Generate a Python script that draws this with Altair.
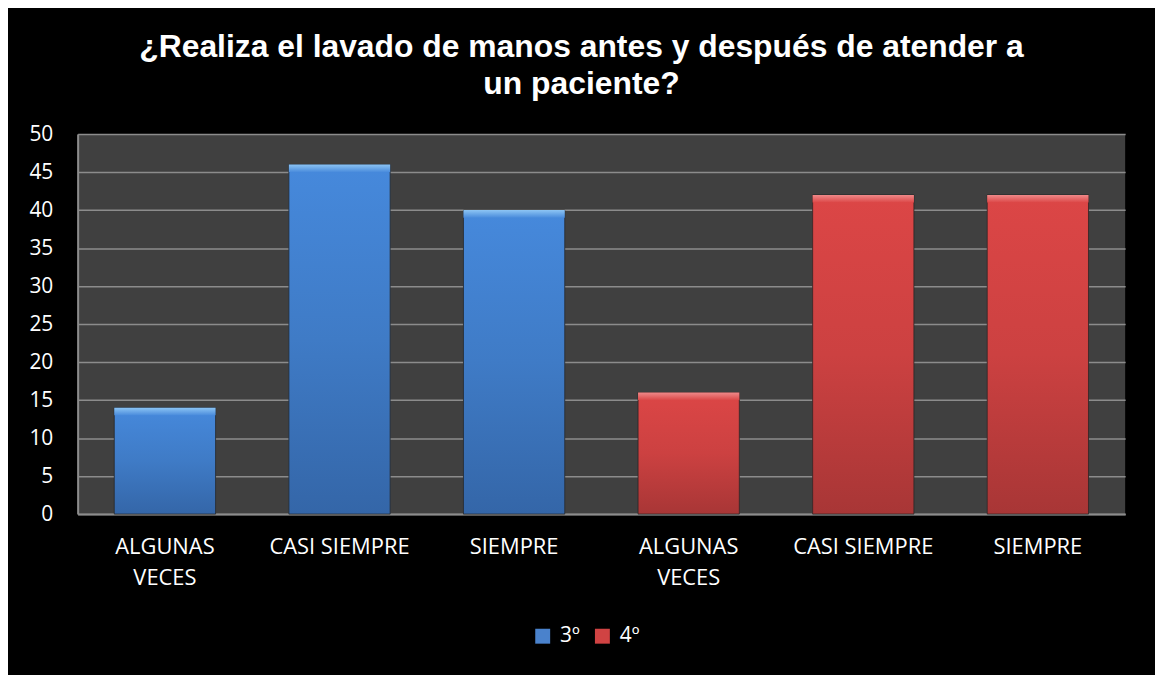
import altair as alt
import pandas as pd

categories = ["ALGUNAS VECES", "CASI SIEMPRE", "SIEMPRE"]
series = ["3º", "4º"]
values_3 = [14, 46, 40]
values_4 = [16, 42, 42]

title_lines = ["¿Realiza el lavado de manos antes y después de atender a", "un paciente?"]

rows = []
for s, vals in zip(series, [values_3, values_4]):
    for c, v in zip(categories, vals):
        rows.append({"key": f"{s}|{c}", "series": s, "category": c, "value": v})
df = pd.DataFrame(rows)
order = list(df["key"])

BLUE = "#4a82cc"
RED = "#d04343"

lab = "slice(datum.label, indexof(datum.label, '|') + 1)"
label_expr = f"{lab} == 'ALGUNAS VECES' ? split({lab}, ' ') : {lab}"

x_enc = alt.X(
    "key:N",
    sort=order,
    scale=alt.Scale(paddingInner=0.42, paddingOuter=0.21),
    axis=alt.Axis(
        title=None, labelAngle=0, ticks=False, labelExpr=label_expr,
        labelFont="Open Sans", labelFontSize=22, labelColor="white",
        labelLineHeight=31, labelPadding=23, labelBaseline="top",
        domainColor="#8c8c8c", domainWidth=2, labelLimit=300,
    ),
)
y_enc = alt.Y(
    "value:Q",
    scale=alt.Scale(domain=[0, 50], nice=False),
    axis=alt.Axis(
        title=None, values=list(range(0, 51, 5)), ticks=False,
        labelFont="Open Sans", labelFontSize=21, labelColor="white",
        labelPadding=25, gridColor="#8c8c8c", gridWidth=1.5,
        domainColor="#8c8c8c", domainWidth=2,
    ),
)

base = alt.Chart(df)

legend_bars = base.mark_bar().encode(
    x=x_enc,
    y=y_enc,
    color=alt.Color(
        "series:N",
        scale=alt.Scale(domain=series, range=[BLUE, RED]),
        legend=alt.Legend(
            title=None, orient="none", direction="horizontal",
            legendX=457, legendY=494, symbolType="square", symbolSize=225,
            symbolStrokeWidth=0, labelColor="white", labelFont="Open Sans",
            labelFontSize=21, columnPadding=12, labelOffset=7,
        ),
    ),
)


def grad(top, mid, bottom):
    return alt.Gradient(
        gradient="linear", x1=0, y1=0, x2=0, y2=1,
        stops=[alt.GradientStop(offset=0, color=top),
               alt.GradientStop(offset=0.5, color=mid),
               alt.GradientStop(offset=1, color=bottom)],
    )


def bevel(light, body):
    return alt.Gradient(
        gradient="linear", x1=0, y1=0, x2=0, y2=1,
        stops=[alt.GradientStop(offset=0, color=light),
               alt.GradientStop(offset=1, color=body)],
    )


grads = {
    "3º": (grad("#4689dc", "#3f7bc6", "#3466a8"), bevel("#8cc4f4", "#4a8cdc")),
    "4º": (grad("#dc4646", "#cc4141", "#a83636"), bevel("#f08a8a", "#dc4848")),
}

layers = [legend_bars]
for s in series:
    body, top = grads[s]
    layers.append(
        base.transform_filter(alt.datum.series == s)
        .mark_bar(color=body, stroke="#242424", strokeWidth=0.8)
        .encode(x=x_enc, y=y_enc)
    )
    layers.append(
        base.transform_filter(alt.datum.series == s)
        .transform_calculate(top2="datum.value - 1.0")
        .mark_bar(color=top)
        .encode(x=x_enc, y=y_enc, y2="top2:Q")
    )

chart = (
    alt.layer(*layers)
    .properties(
        width=1053,
        height=382,
        autosize=alt.AutoSizeParams(type="none"),
        padding={"left": 70, "top": 125, "right": 30, "bottom": 160},
        background="black",
        title=alt.TitleParams(
            text=title_lines, font="Liberation Sans", fontSize=32,
            fontWeight="bold", color="white", anchor="middle",
            lineHeight=37, offset=22, dx=-20,
        ),
    )
    .configure_view(fill="#404040", stroke=None)
)

chart.save("out.html", embed_options={"renderer": "svg", "actions": False})
